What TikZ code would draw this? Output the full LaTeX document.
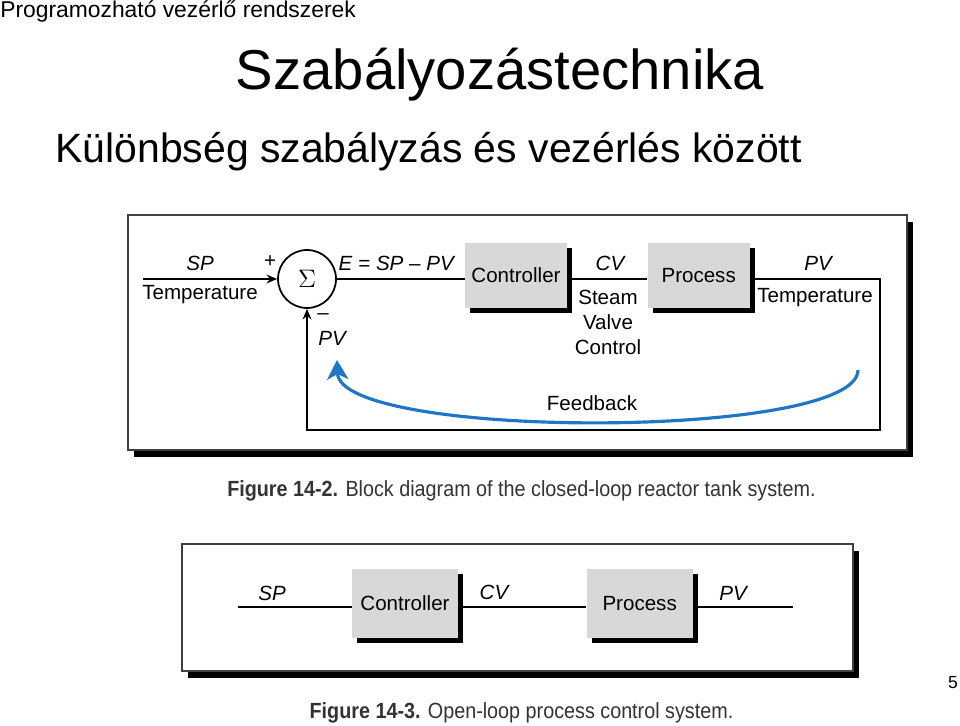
\documentclass[tikz,border=0pt]{standalone}
\usepackage{fontspec}
\setmainfont{Liberation Sans}
\newfontfamily\capfont[FakeStretch=0.9]{Liberation Sans}
\usepackage{tikz}
\usetikzlibrary{positioning,shadows,arrows.meta}
\definecolor{fbblue}{RGB}{30,118,196}
\definecolor{boxgray}{RGB}{216,216,216}

\begin{document}
\begin{tikzpicture}[
    x=0.02cm, y=-0.02cm,
    box/.style={rectangle, fill=boxgray, minimum width=2.04cm, minimum height=1.3cm, font=\fontsize{11.7}{14}\selectfont, drop shadow={shadow xshift=0.1cm, shadow yshift=-0.1cm, fill=black, opacity=1}},
    frame/.style={rectangle, draw=black!75, line width=0.85pt, fill=white, drop shadow={shadow xshift=0.12cm, shadow yshift=-0.14cm, fill=black, opacity=1}},
    lbl/.style={font=\fontsize{11.7}{14.2}\selectfont, inner sep=0pt},
    var/.style={inner sep=0pt, font=\fontsize{11.7}{14.2}\selectfont\itshape},
    line/.style={line width=1pt},
    arrow/.style={line, -{Stealth[length=6pt,width=5pt]}},
    fbarrow/.style={draw=fbblue, line width=1.8pt, -{Stealth[length=11pt,width=12pt,inset=3pt]}}
]
\useasboundingbox (0,0) rectangle (960,726);
% Page title
\node[anchor=base west, inner sep=0pt, font=\fontsize{13}{15}\selectfont] (hdr) at (0,18) {Programozható vezérlő rendszerek};
\node[anchor=base, inner sep=0pt, font=\fontsize{32}{38}\selectfont] (title) at (500,90) {Szabályozástechnika};
\node[anchor=base west, inner sep=0pt, font=\fontsize{23.3}{28}\selectfont] (sub) at (55,163) {Különbség szabályzás és vezérlés között};
% Frames
\node[frame, minimum width=15.58cm, minimum height=4.7cm] (frameA) at (517.5,332.5) {};
\node[frame, minimum width=13.42cm, minimum height=2.54cm] (frameB) at (517.5,607.5) {};
% Closed loop
\node[circle, draw, line width=1pt, minimum size=1.16cm, inner sep=0pt, font=\fontsize{15}{18}\selectfont] (sum) at (307,279) {$\Sigma$};
\node[box] (ctrl) at (516,275.5) {Controller};
\node[box, right=1.6cm of ctrl] (proc) {Process};
\coordinate (spin) at (143,279);
\coordinate (pvout) at (880,279);
\coordinate (fbcorner) at (880,430);
\coordinate (fbstart) at (858,370);
\coordinate (fbend) at (337,360);
% Labels
\node[var] (spA) at (200,263) {SP};
\node[lbl] (tempA) at (200,295) {Temperature};
\node[lbl] (plus) at (270,262) {+};
\node[lbl] (err) at (397,263) {\textit{E} = \textit{SP} – \textit{PV}};
\node[var] (cvA) at (610,263) {CV};
\node[lbl, align=center] (steam) at (608,322) {Steam\\Valve\\Control};
\node[var] (pvA) at (818,263) {PV};
\node[lbl] (tempB) at (815,298) {Temperature};
\node[lbl] (minus) at (323,317) {–};
\node[var] (pvfb) at (332,338) {PV};
\node[lbl] (fbtext) at (592,403) {Feedback};
% Arrows
\draw[arrow] (spin) -- (sum);
\draw[line] (sum) -- (sum -| ctrl.west);
\draw[line] (ctrl.east |- sum) -- (proc.west |- sum);
\draw[arrow] (proc.east |- sum) -- (pvout) -- (fbcorner) -- (fbcorner -| sum) -- (sum.south);
\draw[fbarrow] (fbstart) .. controls (858,440) and (340,440) .. (fbend);
\node[font=\capfont\fontsize{12.5}{15}\selectfont, text=black!80] (capA) at (521.5,491) {\textbf{Figure 14-2.} Block diagram of the closed-loop reactor tank system.};
% Open loop
\node[box, minimum width=2.12cm, minimum height=1.38cm] (ctrlB) at (405,603.5) {Controller};
\node[box, minimum width=2.12cm, minimum height=1.38cm, right=2.56cm of ctrlB] (procB) {Process};
\coordinate (spB) at (238,607);
\coordinate (pvB) at (793,607);
\node[var] (spC) at (272,593) {SP};
\node[var] (cvB) at (494,592) {CV};
\node[var] (pvC) at (733,593) {PV};
\draw[line] (spB) -- (spB -| ctrlB.west);
\draw[line] (ctrlB.east |- spB) -- (procB.west |- spB);
\draw[line] (procB.east |- spB) -- (pvB);
\node[font=\capfont\fontsize{12.5}{15}\selectfont, text=black!80] (capB) at (521.5,713) {\textbf{Figure 14-3.} Open-loop process control system.};
\node[font=\fontsize{10}{12}\selectfont] (pagenum) at (953,683) {5};
\end{tikzpicture}
\end{document}
